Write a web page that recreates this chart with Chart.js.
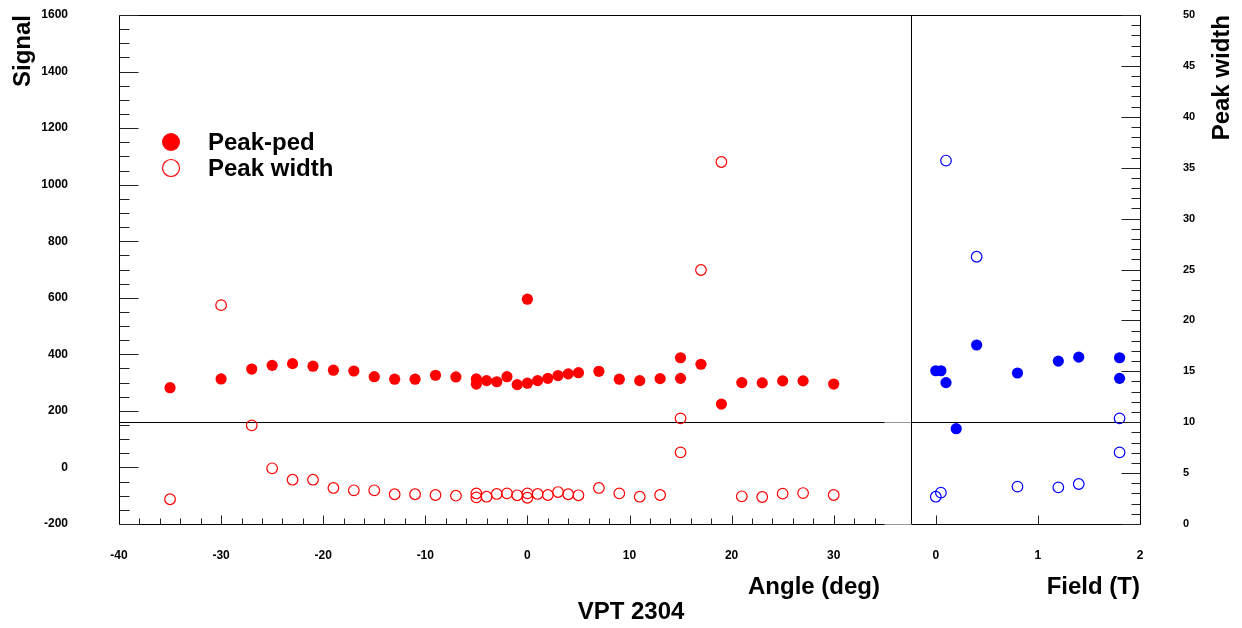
<!DOCTYPE html>
<html>
<head>
<meta charset="utf-8">
<title>VPT 2304</title>
<script src="https://cdn.jsdelivr.net/npm/chart.js@4/dist/chart.umd.min.js"></script>
<style>
  html, body { margin: 0; padding: 0; background: #fff; }
  #wrap { width: 1242px; height: 628px; }
</style>
</head>
<body>
<div id="wrap"><canvas id="chart" width="1242" height="628"></canvas></div>
<script>
// angle scan (red)
const angleDeg = [-35, -30, -27, -25, -23, -21, -19, -17, -15, -13, -11, -9, -7, -5, -5, -4, -3, -2, -1, 0, 0,
  1, 2, 3, 4, 5, 7, 9, 11, 13, 15, 15, 17, 19, 21, 23, 25, 27, 30];
const signalAngle = [282, 313, 348, 361, 367, 358, 344, 341, 321, 312, 312, 326, 320, 313, 295, 307, 303, 321, 293, 298, 595,
  307, 315, 325, 331, 335, 340, 312, 307, 314, 315, 388, 365, 224, 300, 299, 306, 306, 295];
const widthAngle = [2.43, 21.5, 9.69, 5.47, 4.35, 4.35, 3.54, 3.31, 3.31, 2.92, 2.92, 2.85, 2.78, 3.0, 2.62, 2.68, 2.95, 3.01, 2.82, 3.01, 2.58,
  2.95, 2.85, 3.14, 2.92, 2.82, 3.54, 3.01, 2.68, 2.85, 10.38, 7.04, 24.95, 35.56, 2.72, 2.65, 2.98, 3.04, 2.85];

// field scan (blue)
const fieldT = [0, 0.05, 0.1, 0.2, 0.4, 0.8, 1.2, 1.4, 1.8, 1.8];
const signalField = [342, 342, 300, 137, 433, 334, 376, 390, 388, 315];
const fieldTW = [0, 0.05, 0.1, 0.4, 0.8, 1.2, 1.4, 1.8, 1.8];
const widthField = [2.68, 3.08, 35.7, 26.25, 3.67, 3.6, 3.93, 10.38, 7.04];

// tick labels of the shared bottom axis: angle up to 30, field (T) after
const angleTicks = [-40, -30, -20, -10, 0, 10, 20, 30];
const fieldTicks = [0, 1, 2];

// field 0..2 T sits on the same axis at 40..60
const FIELD_OFFSET = 40;
const FIELD_SCALE = 10;
const fieldToX = f => FIELD_OFFSET + f * FIELD_SCALE;

const FONT = '"Liberation Sans", Arial, Helvetica, sans-serif';
const RED = '#ff0000';
const BLUE = '#0000ff';

function pts(xs, ys, fx) {
  return xs.map((x, i) => ({x: fx ? fx(x) : x, y: ys[i]}));
}

function tickLabel(v) {
  if (v <= 30) return angleTicks.includes(v) ? String(v) : '';
  const f = (v - FIELD_OFFSET) / FIELD_SCALE;
  return fieldTicks.includes(f) ? String(f) : '';
}

function line(ctx, x1, y1, x2, y2, color) {
  ctx.strokeStyle = color || '#000';
  ctx.beginPath();
  ctx.moveTo(x1, y1);
  ctx.lineTo(x2, y2);
  ctx.stroke();
}

function vtext(ctx, str, x, y) {
  ctx.save();
  ctx.translate(x, y);
  ctx.rotate(-Math.PI / 2);
  ctx.textAlign = 'right';
  ctx.textBaseline = 'alphabetic';
  ctx.fillText(str, 0, 0);
  ctx.restore();
}

// vertical axes: no extra room above/below the plot frame
function fitVertical(width) {
  return s => {
    s.width = width;
    s.paddingTop = 0;
    s.paddingBottom = 0;
  };
}

const rootFrame = {
  id: 'rootFrame',
  beforeDatasetsDraw(chart) {
    const {ctx, chartArea: a, scales} = chart;
    const yw = Math.round(scales.y2.getPixelForValue(10)) + 0.5;
    const xEnd = scales.x.getPixelForValue(35);
    const xSplit = Math.round(scales.x.getPixelForValue(37.55)) + 0.5;
    ctx.save();
    ctx.lineWidth = 1;
    line(ctx, a.left, yw, xEnd, yw);
    line(ctx, xEnd, yw, xSplit, yw, '#999');
    line(ctx, xSplit, yw, a.right, yw);
    line(ctx, xSplit, a.top, xSplit, a.bottom);
    ctx.restore();
  },
  afterDatasetsDraw(chart) {
    const {ctx, chartArea: a, scales} = chart;
    const L = Math.round(a.left) + 0.5;
    const R = Math.round(a.right) + 0.5;
    const T = Math.round(a.top) + 0.5;
    const B = Math.round(a.bottom) + 0.5;
    const xEnd = scales.x.getPixelForValue(35);
    const xSplit = Math.round(scales.x.getPixelForValue(37.55)) + 0.5;
    ctx.save();
    ctx.lineWidth = 1;
    // frame
    line(ctx, L, T, R, T);
    line(ctx, L, T, L, B);
    line(ctx, R, T, R, B);
    line(ctx, L, B, xEnd, B);
    line(ctx, xEnd, B, xSplit, B, '#999');
    line(ctx, xSplit, B, R, B);

    // left axis ticks
    for (let v = -200; v <= 1600; v += 50) {
      const y = Math.round(scales.y.getPixelForValue(v)) + 0.5;
      line(ctx, L, y, L + (v % 200 === 0 ? 19 : 10), y, '#222');
    }
    // right axis ticks
    for (let v = 0; v <= 50; v += 1) {
      const y = Math.round(scales.y2.getPixelForValue(v)) + 0.5;
      line(ctx, R, y, R - (v % 5 === 0 ? 19 : 9), y, '#222');
    }
    // bottom ticks, angle part
    for (let v = -38; v <= 34; v += 2) {
      const x = Math.round(scales.x.getPixelForValue(v)) + 0.5;
      line(ctx, x, B, x, B - (v % 10 === 0 ? 9 : 6), '#222');
    }
    // bottom ticks, field part
    fieldTicks.slice(0, 2).forEach(f => {
      const x = Math.round(scales.x.getPixelForValue(fieldToX(f))) + 0.5;
      line(ctx, x, B, x, B - 9, '#222');
    });

    // titles
    ctx.fillStyle = '#000';
    ctx.font = 'bold 24px ' + FONT;
    vtext(ctx, 'Signal', 30, a.top);
    vtext(ctx, 'Peak width', 1229, a.top);
    ctx.textBaseline = 'alphabetic';
    ctx.textAlign = 'right';
    ctx.fillText('Angle (deg)', 880, 594);
    ctx.fillText('Field (T)', a.right, 594);
    ctx.textAlign = 'center';
    ctx.fillText('VPT 2304', 631, 619);

    // legend
    ctx.fillStyle = RED;
    ctx.beginPath();
    ctx.arc(171, 142, 9, 0, Math.PI * 2);
    ctx.fill();
    ctx.strokeStyle = RED;
    ctx.lineWidth = 1.2;
    ctx.beginPath();
    ctx.arc(171, 168, 8.5, 0, Math.PI * 2);
    ctx.stroke();
    ctx.fillStyle = '#000';
    ctx.textAlign = 'left';
    ctx.fillText('Peak-ped', 208, 150);
    ctx.fillText('Peak width', 208, 176);
    ctx.restore();
  }
};

const filled = color => ({
  pointRadius: 5.6,
  pointHoverRadius: 5.6,
  pointBackgroundColor: color,
  pointBorderWidth: 0,
  backgroundColor: color,
  borderColor: color,
  showLine: false
});
const hollow = color => ({
  pointRadius: 5.3,
  pointHoverRadius: 5.3,
  pointBackgroundColor: 'rgba(0,0,0,0)',
  pointBorderColor: color,
  pointBorderWidth: 1.2,
  borderColor: color,
  showLine: false
});

new Chart(document.getElementById('chart'), {
  type: 'scatter',
  data: {
    datasets: [
      Object.assign({label: 'Peak-ped', data: pts(angleDeg, signalAngle), yAxisID: 'y'}, filled(RED)),
      Object.assign({label: 'Peak width', data: pts(angleDeg, widthAngle), yAxisID: 'y2'}, hollow(RED)),
      Object.assign({label: 'Peak-ped (field)', data: pts(fieldT, signalField, fieldToX), yAxisID: 'y'}, filled(BLUE)),
      Object.assign({label: 'Peak width (field)', data: pts(fieldTW, widthField, fieldToX), yAxisID: 'y2'}, hollow(BLUE))
    ]
  },
  options: {
    responsive: false,
    animation: false,
    devicePixelRatio: 1,
    layout: {padding: {top: 15, left: 0, right: 0, bottom: 0}},
    plugins: {legend: {display: false}, tooltip: {enabled: false}},
    scales: {
      x: {
        type: 'linear',
        min: -40,
        max: 60,
        grid: {display: false, drawTicks: false},
        border: {display: false},
        ticks: {
          stepSize: 10,
          autoSkip: false,
          maxRotation: 0,
          padding: 24,
          color: '#000',
          font: {family: FONT, size: 12, weight: 'bold'},
          callback: v => tickLabel(v)
        },
        afterFit: s => { s.height = 104; }
      },
      y: {
        position: 'left',
        min: -200,
        max: 1600,
        grid: {display: false, drawTicks: false},
        border: {display: false},
        ticks: {
          stepSize: 200,
          padding: 51,
          color: '#000',
          font: {family: FONT, size: 12, weight: 'bold'},
          callback: v => String(v)
        },
        afterFit: fitVertical(119)
      },
      y2: {
        position: 'right',
        min: 0,
        max: 50,
        grid: {display: false, drawTicks: false},
        border: {display: false},
        ticks: {
          stepSize: 5,
          padding: 43,
          color: '#000',
          font: {family: FONT, size: 11, weight: 'bold'},
          callback: v => String(v)
        },
        afterFit: fitVertical(102)
      }
    }
  },
  plugins: [rootFrame]
});
</script>
</body>
</html>
